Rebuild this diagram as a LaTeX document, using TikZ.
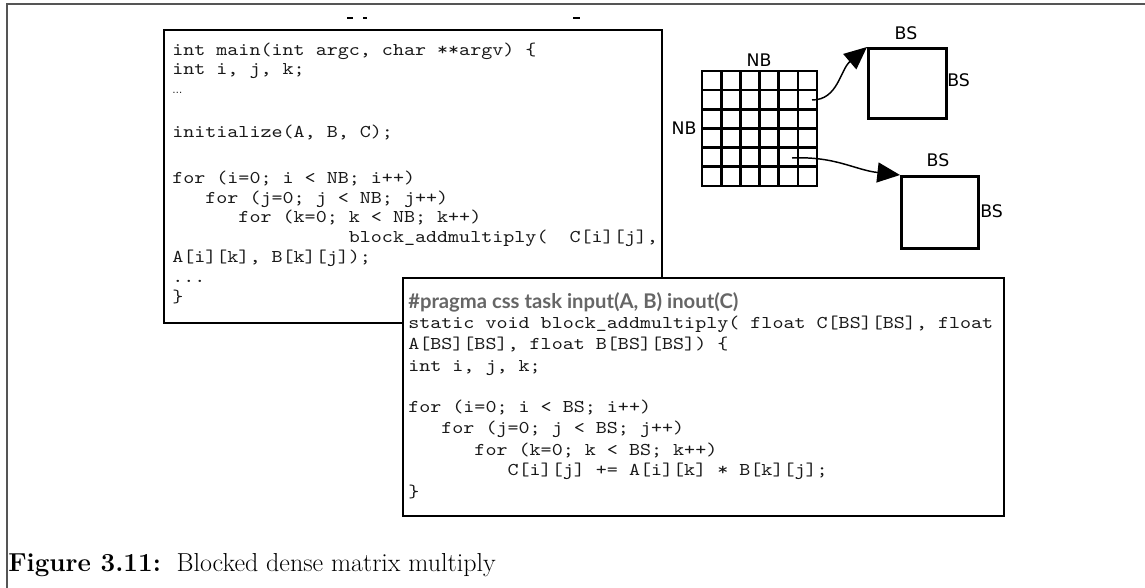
\documentclass[tikz,border=0pt]{standalone}
\usepackage{fontspec}
\newfontfamily\codefont{lmmono10-regular.otf}[FakeStretch=1.168]
\newfontfamily\pragmafont{Lato}
\newfontfamily\labelfont{DejaVu Sans}
\usetikzlibrary{arrows.meta}
\definecolor{framegray}{HTML}{555555}
\definecolor{pragmagray}{HTML}{666666}
\begin{document}
\begin{tikzpicture}[x=0.75pt,y=-0.75pt,
  frameline/.style={draw=framegray, line width=1.5pt},
  codebox/.style={draw=black, line width=2.2pt},
  code/.style={anchor=base west, inner sep=0pt, text=black!90, font=\codefont\fontsize{13.5}{16}\selectfont},
  pragma/.style={anchor=base west, inner sep=0pt, text=pragmagray},
  gridline/.style={draw=black, line width=2pt},
  sq/.style={draw=black, line width=2pt, anchor=north west, inner sep=0pt},
  lbl/.style={inner sep=0pt, font=\labelfont\fontsize{13}{15}\selectfont},
  conn/.style={draw=black, line width=1.1pt, -{Triangle[length=17pt,width=15pt]}},
  captext/.style={anchor=base west, inner sep=0pt, font=\fontsize{19.5}{23}\selectfont}
]
\useasboundingbox (0,0) rectangle (1145,588);
% outer frame
\draw[frameline] (6.5,588) -- (6.5,4.5) -- (1145,4.5);
% clipped remnants at top
\draw[line width=1.1pt] (347,18) -- (353,18);
\draw[line width=1.1pt] (363,18) -- (367,18);
\draw[line width=1.1pt] (573,18) -- (580,18);

% main program box
\path[codebox] (164,30) rectangle (662,323);
\node[code] (l1) at (172,56) {int main(int argc, char **argv) \{};
\node[code] (l2) at (172,75) {int i, j, k;};
\node[code] (l3) at (172,94) {{\labelfont\fontsize{7.5}{9}\selectfont …}};
\node[code] (l4) at (172,138) {initialize(A, B, C);};
\node[code] (l5) at (172,183) {for (i=0; i < NB; i++)};
\node[code] (l6) at (172,203) {\phantom{xxx}for (j=0; j < NB; j++)};
\node[code] (l7) at (172,222) {\phantom{xxxxxx}for (k=0; k < NB; k++)};
\node[code] (l8) at (172,242) {\phantom{xxxxxxxxxxxxxxxx}block\_addmultiply(~~C[i][j],};
\node[code] (l9) at (172,262) {A[i][k], B[k][j]);};
\node[code] (l10) at (172,282) {...};
\node[code] (l11) at (172,302) {\}};

% task box
\path[codebox, fill=white] (403,278) rectangle (1004,516);
\node[pragma] (m1) at (408,308) {\resizebox{247.5pt}{!}{\pragmafont\bfseries \#pragma css task input(A, B) inout(C)}};
\node[code] (m2) at (408,328) {static void block\_addmultiply( float C[BS][BS], float};
\node[code] (m3) at (408,349) {A[BS][BS], float B[BS][BS]) \{};
\node[code] (m4) at (408,371) {int i, j, k;};
\node[code] (m5) at (408,412) {for (i=0; i < BS; i++)};
\node[code] (m6) at (408,433) {\phantom{xxx}for (j=0; j < BS; j++)};
\node[code] (m7) at (408,455) {\phantom{xxxxxx}for (k=0; k < BS; k++)};
\node[code] (m8) at (408,475) {\phantom{xxxxxxxxx}C[i][j] += A[i][k] * B[k][j];};
\node[code] (m9) at (408,497) {\}};

% NB x NB grid of blocks
\path[gridline] (702,71) rectangle (817,186);
\foreach \i in {1,...,5} {
  \path[gridline] ({702+\i*19.1667},71) -- ({702+\i*19.1667},186);
  \path[gridline] (702,{71+\i*19.1667}) -- (817,{71+\i*19.1667});
}
\node[lbl] (nbtop) at (759,60) {NB};
\node[lbl] (nbleft) at (684,128) {NB};

% BS x BS blocks
\node[sq, minimum width=58.5pt, minimum height=52.5pt] (bs1) at (867,47) {};
\node[sq, minimum width=57.75pt, minimum height=54pt] (bs2) at (900,175) {};
\node[lbl] (bs1top) at (906,33) {BS};
\node[lbl, anchor=west] (bs1right) at (947,80) {BS};
\node[lbl] (bs2top) at (938,160) {BS};
\node[lbl, anchor=west] (bs2right) at (980,211) {BS};

% connectors
\coordinate (g1) at (812,100);
\coordinate (g2) at (792,158);
\draw[conn] (g1) .. controls (838,100) and (840,70) .. (bs1.north west);
\draw[conn] (g2) .. controls (835,156) and (855,170) .. (bs2.north west);

% caption
\node[captext] (caption) at (8,571) {\textbf{Figure 3.11:}\ \ Blocked dense matrix multiply};
\end{tikzpicture}
\end{document}
